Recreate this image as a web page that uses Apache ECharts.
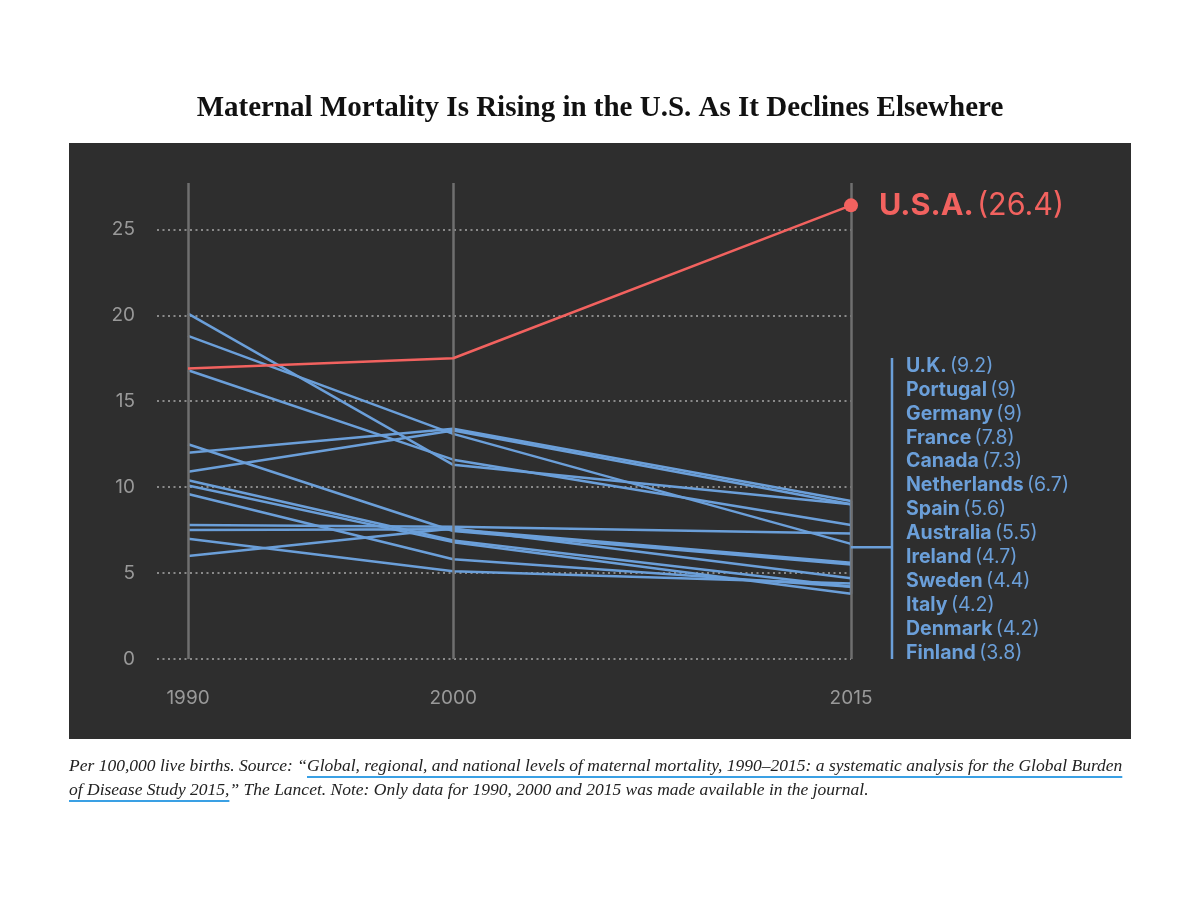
<!DOCTYPE html>
<html><head><meta charset="utf-8">
<script src="https://cdn.jsdelivr.net/npm/echarts@6/dist/echarts.min.js"></script>
<style>html,body{margin:0;padding:0;background:#fff}#c{width:1200px;height:900px}</style>
</head><body><div id="c"></div>
<script>
// ---- data ----
const years = [1990, 2000, 2015];
const usa = [16.9, 17.5, 26.4];
const countryNames = ['U.K.', 'Portugal', 'Germany', 'France', 'Canada', 'Netherlands', 'Spain', 'Australia', 'Ireland', 'Sweden', 'Italy', 'Denmark', 'Finland'];
const uk = [12.0, 13.4, 9.2];
const portugal = [20.1, 11.3, 9.0];
const germany = [10.9, 13.3, 9.0];
const france = [16.8, 11.6, 7.8];
const canada = [7.8, 7.7, 7.3];
const netherlands = [18.8, 13.1, 6.7];
const spain = [7.5, 7.55, 5.6];
const australia = [12.5, 7.45, 5.5];
const ireland = [6.0, 7.6, 4.7];
const sweden = [7.0, 5.1, 4.4];
const italy = [9.6, 5.8, 4.2];
const denmark = [10.4, 6.9, 4.2];
const finland = [10.1, 6.8, 3.8];
const countryValues = [uk, portugal, germany, france, canada, netherlands, spain, australia, ireland, sweden, italy, denmark, finland];
const yTickStep = 5;

const titleText = 'Maternal Mortality Is Rising in the U.S. As It Declines Elsewhere';
const note1a = 'Per 100,000 live births. Source: \u201C';
const note1b = 'Global, regional, and national levels of maternal mortality, 1990\u20132015: a systematic analysis for the Global Burden';
const note2a = 'of Disease Study 2015,';
const note2b = '\u201D The Lancet. Note: Only data for 1990, 2000 and 2015 was made available in the journal.';

// ---- style ----
const BLUE = '#6b9fd9';
const RED = '#f2625f';
const PANEL = '#2e2e2e';
const SANS = 'Inter, Roboto, sans-serif';
const SERIF = '"Liberation Serif", "DejaVu Serif", serif';

const chart = echarts.init(document.getElementById('c'));

const series = [];
// vertical year lines
series.push({
  type: 'line', data: [], silent: true, z: 1,
  markLine: {
    silent: true, symbol: ['none', 'none'], label: { show: false },
    lineStyle: { color: '#6f6f6f', width: 2.5, type: 'solid' },
    emphasis: { disabled: true },
    data: years.map(y => ({ xAxis: y }))
  }
});
countryNames.forEach((name, k) => {
  series.push({
    name, type: 'line', z: 3, symbol: 'none', silent: true,
    lineStyle: { color: BLUE, width: 2.5 },
    data: years.map((y, i) => [y, countryValues[k][i]])
  });
});
// bracket joining 2015 endpoints
const last = countryValues.map(v => v[v.length - 1]);
const lo = Math.min(...last), hi = Math.max(...last);
series.push({
  type: 'line', z: 4, symbol: 'none', silent: true,
  lineStyle: { color: BLUE, width: 2.5 },
  data: [[years[2], lo], [years[2], hi]]
});
series.push({
  name: 'U.S.A.', type: 'line', z: 5, silent: true,
  lineStyle: { color: RED, width: 2.5 },
  itemStyle: { color: RED },
  symbol: 'circle', showSymbol: true,
  data: years.map((y, i) => i === years.length - 1 ? {
    value: [y, usa[i]], symbolSize: 14,
    label: {
      show: true, position: 'right', distance: 21,
      formatter: '{b|U.S.A.} {v|(' + usa[i] + ')}',
      rich: {
        b: { fontFamily: SANS, fontWeight: 'bold', fontSize: 30.5, color: RED },
        v: { fontFamily: SANS, fontSize: 30.5, color: RED }
      }
    }
  } : { value: [y, usa[i]], symbolSize: 0 })
});

const option = {
  backgroundColor: '#ffffff',
  animation: false,
  title: {
    text: titleText, left: 'center', top: 89,
    textStyle: { fontFamily: SERIF, fontWeight: 'bold', fontSize: 29, color: '#111' }
  },
  grid: { left: 157, right: 349, top: 183, bottom: 241, containLabel: false },
  xAxis: {
    type: 'value', min: 1988.83, max: 2015,
    axisLine: { show: false }, axisTick: { show: false }, splitLine: { show: false },
    axisLabel: { customValues: years, color: '#999', fontSize: 19, fontFamily: SANS, margin: 30,
      formatter: v => String(v) }
  },
  yAxis: {
    type: 'value', min: 0, max: 27.7, interval: yTickStep,
    axisLine: { show: false }, axisTick: { show: false },
    axisLabel: { color: '#999', fontSize: 19, fontFamily: SANS, margin: 22, showMaxLabel: false,
      formatter: v => (v % yTickStep === 0 ? String(v) : '') },
    splitLine: { show: true, showMaxLine: false, lineStyle: { color: '#8a8a8a', width: 2, type: [2, 3.5] } }
  },
  series,
  graphic: [{ type: 'rect', z: -10, shape: { x: 69, y: 143, width: 1062, height: 596 }, style: { fill: PANEL } }]
};
chart.setOption(option);

// ---- annotations computed from axis scale ----
const mid = (lo + hi) / 2;
const pMid = chart.convertToPixel({ gridIndex: 0 }, [years[2], mid]);
const pZero = chart.convertToPixel({ gridIndex: 0 }, [years[2], 0]);
const bx = pMid[0] + 41;
const listTop = 366, step = 23.9;
const g = [];
g.push({ type: 'rect', z: -10, shape: { x: 69, y: 143, width: 1062, height: 596 }, style: { fill: PANEL } });
g.push({ type: 'line', z: 10, shape: { x1: pMid[0], y1: pMid[1], x2: bx, y2: pMid[1] }, style: { stroke: BLUE, lineWidth: 2.5 } });
g.push({ type: 'line', z: 10, shape: { x1: bx, y1: listTop - 8, x2: bx, y2: pZero[1] }, style: { stroke: BLUE, lineWidth: 2.5 } });
countryNames.forEach((n, k) => {
  g.push({
    type: 'text', z: 10, x: bx + 14, y: listTop + k * step,
    style: {
      text: '{b|' + n + '} {v|(' + last[k] + ')}', verticalAlign: 'middle',
      rich: {
        b: { fontFamily: SANS, fontWeight: 'bold', fontSize: 19.5, fill: BLUE },
        v: { fontFamily: SANS, fontSize: 19.5, fill: BLUE }
      }
    }
  });
});
// footnote
const noteFont = 'italic 17.5px ' + SERIF;
const ctx = document.createElement('canvas').getContext('2d');
ctx.font = noteFont;
const w1a = ctx.measureText(note1a).width, w1b = ctx.measureText(note1b).width, w2a = ctx.measureText(note2a).width;
const nx = 69, ny1 = 766, ny2 = 790;
g.push({ type: 'text', x: nx, y: ny1, style: { text: note1a + note1b, font: noteFont, fill: '#222', verticalAlign: 'middle' } });
g.push({ type: 'text', x: nx, y: ny2, style: { text: note2a + note2b, font: noteFont, fill: '#222', verticalAlign: 'middle' } });
g.push({ type: 'line', shape: { x1: nx + w1a, y1: ny1 + 11, x2: nx + w1a + w1b, y2: ny1 + 11 }, style: { stroke: '#3aa0e4', lineWidth: 2 } });
g.push({ type: 'line', shape: { x1: nx, y1: ny2 + 11, x2: nx + w2a, y2: ny2 + 11 }, style: { stroke: '#3aa0e4', lineWidth: 2 } });
chart.setOption({ graphic: g });
</script></body></html>
